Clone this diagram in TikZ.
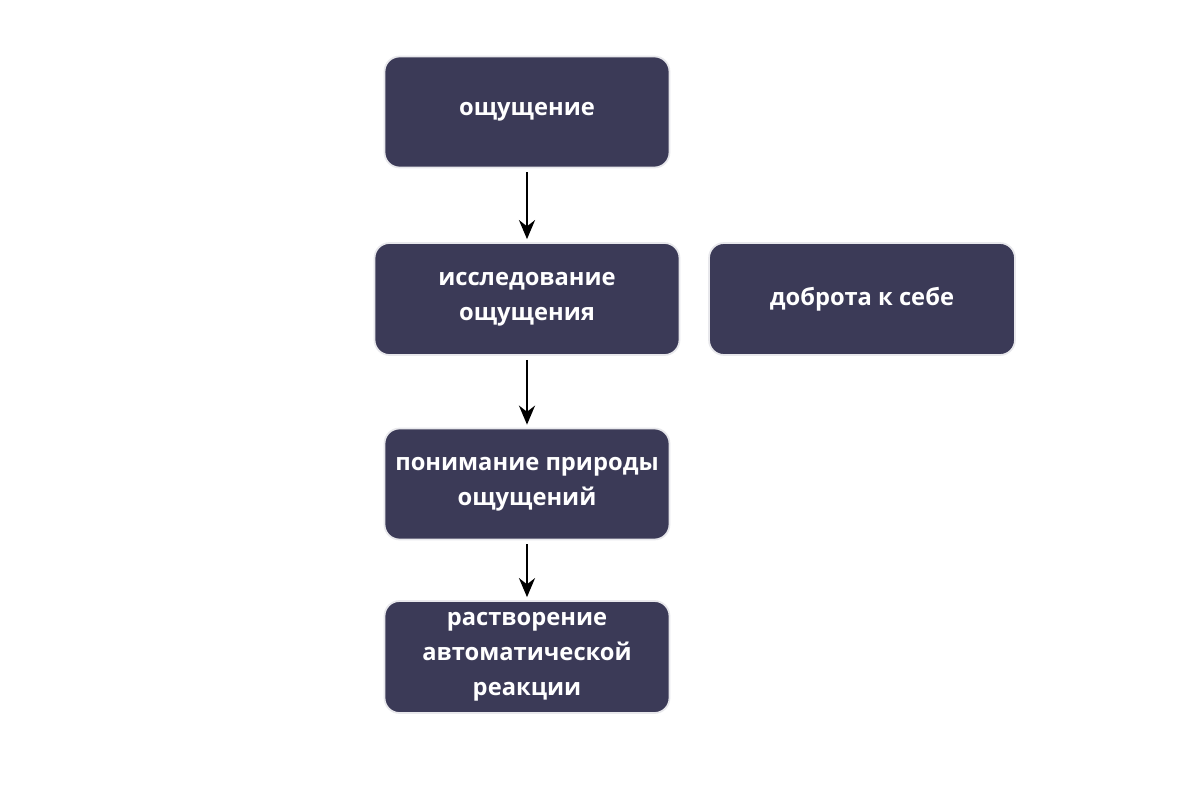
\documentclass[tikz,border=0pt]{standalone}
\usepackage{fontspec}
\setmainfont{Open Sans}
\usetikzlibrary{arrows.meta,positioning}
\definecolor{boxblue}{RGB}{59,58,87}
\definecolor{rimgray}{RGB}{232,232,236}

\tikzset{
  stepbox/.style={draw=rimgray, line width=1pt, fill=boxblue, rounded corners=0.3cm,
    text=white, font=\bfseries\fontsize{13.5}{20}\selectfont, align=center,
    inner sep=0pt},
  flow/.style={-{Stealth[length=0.38cm,width=0.32cm]}, line width=1.4pt, black}
}

\begin{document}
\begin{tikzpicture}[x=0.02cm,y=-0.02cm]
\useasboundingbox[fill=white] (0,0) rectangle (1200,804);

\node [stepbox, minimum width=5.7cm, minimum height=2.22cm] (feel) at (527,112) {ощущение};
\node [stepbox, minimum width=6.1cm, minimum height=2.24cm] (explore) at (527,299) {исследование\\ощущения};
\node [stepbox, minimum width=6.12cm, minimum height=2.24cm] (kind) at (862,299) {доброта к себе};
\node [stepbox, minimum width=5.7cm, minimum height=2.22cm] (nature) at (527,484) {понимание природы\\ощущений};
\node [stepbox, minimum width=5.7cm, minimum height=2.24cm] (dissolve) at (527,657) {растворение\\автоматической\\реакции};

\draw [flow] ([yshift=-0.08cm]feel.south) -- ([yshift=0.06cm]explore.north);
\draw [flow] ([yshift=-0.08cm]explore.south) -- ([yshift=0.06cm]nature.north);
\draw [flow] ([yshift=-0.08cm]nature.south) -- ([yshift=0.06cm]dissolve.north);

\end{tikzpicture}
\end{document}
